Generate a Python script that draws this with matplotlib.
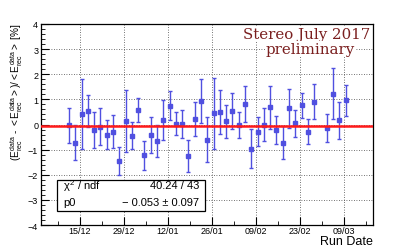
import numpy as np
import pandas as pd
import matplotlib
matplotlib.use('Agg')
import matplotlib.pyplot as plt
import matplotlib.dates as mdates
import matplotlib.ticker as ticker
from matplotlib.patches import Rectangle

plt.rcParams['font.family'] = ['Liberation Sans', 'DejaVu Sans']
plt.rcParams['mathtext.fontset'] = 'custom'
plt.rcParams['mathtext.rm'] = 'Liberation Sans'
plt.rcParams['mathtext.it'] = 'Liberation Sans'

# run dates (one point per 2-day bin, 01/03 missing)
run_dates = ['2016-12-11', '2016-12-13', '2016-12-15', '2016-12-17', '2016-12-19',
             '2016-12-21', '2016-12-23', '2016-12-25', '2016-12-27', '2016-12-29',
             '2016-12-31', '2017-01-02', '2017-01-04', '2017-01-06', '2017-01-08',
             '2017-01-10', '2017-01-12', '2017-01-14', '2017-01-16', '2017-01-18',
             '2017-01-20', '2017-01-22', '2017-01-24', '2017-01-26', '2017-01-28',
             '2017-01-30', '2017-02-01', '2017-02-03', '2017-02-05', '2017-02-07',
             '2017-02-09', '2017-02-11', '2017-02-13', '2017-02-15', '2017-02-17',
             '2017-02-19', '2017-02-21', '2017-02-23', '2017-02-25', '2017-02-27',
             '2017-03-03', '2017-03-05', '2017-03-07', '2017-03-09']
rel_diff = [-0.03, -0.72, 0.43, 0.53, -0.21, -0.08, -0.40, -0.29, -1.45, 0.13,
            -0.44, 0.57, -1.23, -0.41, -0.65, 0.19, 0.75, 0.03, 0.03, -1.25,
            0.23, 0.93, -0.61, 0.44, 0.51, 0.12, 0.53, -0.03, 0.81, -0.96,
            -0.28, 0.00, 0.69, -0.21, -0.72, 0.64, 0.04, 0.76, -0.28, 0.91,
            -0.13, 1.23, 0.16, 0.96]
rel_err = [0.69, 0.69, 1.39, 0.63, 0.71, 0.75, 0.56, 0.65, 0.57, 1.24,
           0.54, 0.48, 0.57, 0.71, 0.65, 0.79, 0.58, 0.46, 0.56, 0.63,
           0.68, 0.87, 0.89, 1.41, 0.87, 0.66, 0.72, 0.51, 0.73, 0.77,
           0.59, 0.67, 0.86, 0.55, 0.67, 0.79, 0.55, 0.49, 0.51, 0.69,
           0.55, 1.03, 0.73, 0.61]

tick_dates = ['2016-12-15', '2016-12-29', '2017-01-12', '2017-01-26',
              '2017-02-09', '2017-02-23', '2017-03-09']
tick_labels = ['15/12', '29/12', '12/01', '26/01', '09/02', '23/02', '09/03']

fit_p0 = -0.053
fit_p0_err = 0.097
chi2, ndf = 40.24, 43

x = pd.to_datetime(run_dates) + pd.Timedelta(hours=12)
ticks = mdates.date2num(pd.to_datetime(tick_dates))

fig = plt.figure(figsize=(4.15, 2.51), dpi=100)
ax = fig.add_axes([0.0988, 0.0996, 0.8, 0.8008])

ax.errorbar(x, rel_diff, yerr=rel_err, fmt='s', ms=2.2, color='#5050e0',
            ecolor='#5050e0', elinewidth=1.0, capsize=1.5, capthick=1.0, zorder=3)
ax.axhline(fit_p0, color='#ff1a1a', lw=1.8, zorder=4)

ax.set_xlim(mdates.date2num(pd.Timestamp('2016-12-02 14:00')),
            mdates.date2num(pd.Timestamp('2017-03-18 05:00')))
ax.set_ylim(-4, 4)

ax.xaxis.set_major_locator(ticker.FixedLocator(ticks))
ax.xaxis.set_major_formatter(ticker.FixedFormatter(tick_labels))
ax.xaxis.set_minor_locator(ticker.MultipleLocator(7, offset=ticks[0] % 7))
ax.yaxis.set_major_locator(ticker.MultipleLocator(1))
ax.yaxis.set_minor_locator(ticker.MultipleLocator(0.2))
ax.tick_params(which='both', direction='in', labelsize=6.5, colors='black')
ax.tick_params(axis='x', which='major', length=6, pad=1.0)
ax.tick_params(axis='y', which='major', length=6, pad=2)
ax.tick_params(which='minor', length=3)

ax.grid(True, which='major', color='#444444', ls=(0, (1, 2)), lw=0.6, zorder=0)
for s in ax.spines.values():
    s.set_linewidth(0.9)

# stats box
ax.add_patch(Rectangle((0.048, 0.07), 0.446, 0.154, transform=ax.transAxes,
                       fc='white', ec='black', lw=0.9, zorder=6))
ax.text(0.066, 0.199, r'$\chi^2$ / ndf', transform=ax.transAxes, fontsize=8,
        va='center', ha='left', zorder=7)
ax.text(0.476, 0.199, f'{chi2:.2f} / {ndf}', transform=ax.transAxes, fontsize=8,
        va='center', ha='right', zorder=7)
ax.text(0.066, 0.114, 'p0', transform=ax.transAxes, fontsize=8,
        va='center', ha='left', zorder=7)
ax.text(0.476, 0.114, f'\u2212 {abs(fit_p0):.3f} \u00b1 {fit_p0_err:.3f}',
        transform=ax.transAxes, fontsize=8, va='center', ha='right', zorder=7)

fig.text(0.892, 0.845, 'Stereo July 2017', family=['DejaVu Serif'],
         fontsize=10.8, color='#7a1f1f', ha='right', va='baseline', zorder=8,
         bbox=dict(fc='white', ec='none', pad=0.5))
fig.text(0.747, 0.785, 'preliminary', family=['DejaVu Serif'],
         fontsize=10.8, color='#7a1f1f', ha='center', va='baseline', zorder=8,
         bbox=dict(fc='white', ec='none', pad=0.5))

fig.text(0.899, 0.034, 'Run Date', fontsize=9, ha='right', va='center')
fig.text(0.041, 0.908,
         r'$(E^{\rm data}_{\rm rec}$ - $<E^{\rm data}_{\rm rec}>)/<E^{\rm data}_{\rm rec}>$ [%]',
         fontsize=7.2, rotation=90, ha='center', va='top')

fig.savefig('out.png', dpi=100)
